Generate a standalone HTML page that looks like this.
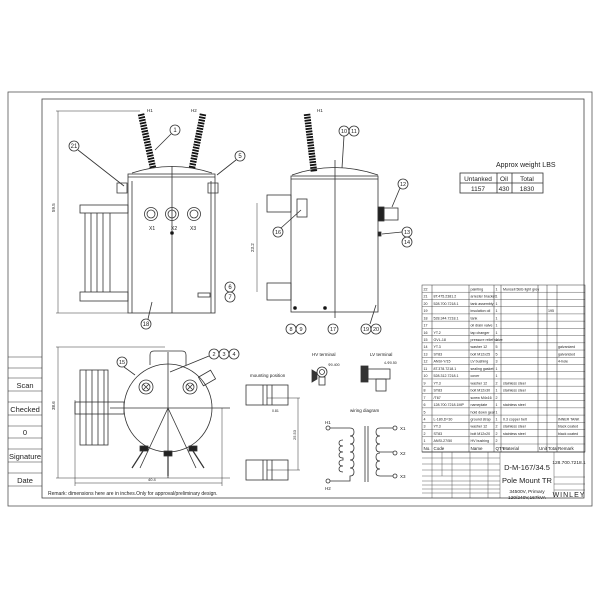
<!DOCTYPE html>
<html><head><meta charset="utf-8"><style>
html,body{margin:0;padding:0;background:#fff}
svg{display:block}
text{font-family:"Liberation Sans",sans-serif;fill:#222}
</style></head><body>
<svg width="600" height="600" viewBox="0 0 600 600" xmlns="http://www.w3.org/2000/svg" stroke="#333" stroke-width="0.8" fill="none">
<rect x="8" y="92" width="584" height="414" stroke="#555"/>
<rect x="42" y="99" width="542" height="399" stroke="#444"/>
<g stroke-width="0.6">
<line x1="8" y1="357" x2="42" y2="357"/><line x1="8" y1="368" x2="42" y2="368"/>
<line x1="8" y1="378" x2="42" y2="378"/><line x1="8" y1="391" x2="42" y2="391"/>
<line x1="8" y1="402" x2="42" y2="402"/><line x1="8" y1="415" x2="42" y2="415"/>
<line x1="8" y1="426" x2="42" y2="426"/><line x1="8" y1="438" x2="42" y2="438"/>
<line x1="8" y1="449" x2="42" y2="449"/><line x1="8" y1="462" x2="42" y2="462"/>
<line x1="8" y1="473" x2="42" y2="473"/><line x1="8" y1="486" x2="42" y2="486"/>
</g>
<g stroke="none" font-size="7.5" text-anchor="middle">
<text x="25" y="388">Scan</text><text x="25" y="412">Checked</text>
<text x="25" y="435">0</text><text x="25" y="459">Signature</text><text x="25" y="483">Date</text>
</g>

<line x1="58" y1="111" x2="58" y2="313" stroke-width="0.5"/>
<line x1="56" y1="111" x2="140" y2="111" stroke-width="0.5"/>
<line x1="56" y1="313" x2="128" y2="313" stroke-width="0.5"/>
<text x="55" y="212" font-size="4.5" stroke="none" transform="rotate(-90 55 212)">59.5</text>
<path d="M132 173 Q172 160 212 173" />
<rect x="128" y="174" width="87" height="139"/>
<line x1="128" y1="177" x2="215" y2="177"/>
<line x1="172" y1="166" x2="172" y2="313"/>
<line x1="132" y1="181" x2="132" y2="313"/><line x1="211" y1="181" x2="211" y2="313"/>
<g stroke="#111" stroke-width="6.5" stroke-dasharray="1.8 1">
<line x1="141" y1="114" x2="153" y2="168"/>
<line x1="203" y1="114" x2="192" y2="168"/>
<line x1="307" y1="114" x2="314" y2="172"/>
</g>
<g stroke="none" font-size="4.5"><text x="147" y="112">H1</text><text x="191" y="112">H2</text><text x="317" y="112">H1</text></g>
<rect x="80" y="205" width="48" height="8"/><rect x="80" y="292" width="48" height="9"/>
<g><line x1="85" y1="213" x2="85" y2="292"/><line x1="91" y1="213" x2="91" y2="292"/><line x1="97" y1="213" x2="97" y2="292"/><line x1="103" y1="213" x2="103" y2="292"/><line x1="110" y1="213" x2="110" y2="292"/></g>
<circle cx="151" cy="214" r="6.5"/><circle cx="151" cy="214" r="4"/>
<circle cx="172" cy="214" r="6.5"/><circle cx="172" cy="214" r="4"/>
<circle cx="194" cy="214" r="6.5"/><circle cx="194" cy="214" r="4"/>
<g stroke="none" font-size="5"><text x="149" y="230">X1</text><text x="171" y="230">X2</text><text x="190" y="230">X3</text></g>
<circle cx="172" cy="233" r="1.5" fill="#111"/>
<path d="M117 183 h10 v10 h-10z M208 183 h10 v10 h-10z"/>
<rect x="198" y="293" width="12" height="4"/>
<g>
<circle cx="175" cy="130" r="5"/><line x1="171" y1="134" x2="155" y2="150"/>
<circle cx="74" cy="146" r="5"/><line x1="78" y1="150" x2="124" y2="186"/>
<circle cx="240" cy="156" r="5"/><line x1="236" y1="160" x2="217" y2="175"/>
<circle cx="230" cy="287" r="5"/><circle cx="230" cy="297" r="5"/>
<circle cx="146" cy="324" r="5"/><line x1="148" y1="319" x2="152" y2="302"/>
</g>
<g stroke="none" font-size="6" text-anchor="middle">
<text x="175" y="132">1</text><text x="74" y="148">21</text><text x="240" y="158">5</text>
<text x="230" y="289">6</text><text x="230" y="299">7</text><text x="146" y="326">18</text>
</g>

<path d="M292 175 Q334 160 378 175"/>
<rect x="291" y="176" width="87" height="136"/>
<line x1="335" y1="160" x2="335" y2="318"/>
<line x1="291" y1="179" x2="378" y2="179"/>
<rect x="267" y="195" width="24" height="17"/><rect x="267" y="283" width="24" height="17"/>
<line x1="257" y1="203" x2="257" y2="292" stroke-width="0.5"/>
<text x="254" y="252" font-size="4.5" stroke="none" transform="rotate(-90 254 252)">23.2</text>
<rect x="297" y="199" width="10" height="18"/>
<rect x="378" y="207" width="6" height="14" fill="#222"/>
<rect x="384" y="208" width="14" height="12"/>
<rect x="378" y="232" width="3" height="4" fill="#222"/>
<circle cx="295" cy="308" r="1.5" fill="#111"/><circle cx="325" cy="308" r="1.5" fill="#111"/>
<g>
<circle cx="344" cy="131" r="5"/><circle cx="354" cy="131" r="5"/><line x1="344" y1="136" x2="342" y2="168"/>
<circle cx="403" cy="184" r="5"/><line x1="400" y1="188" x2="392" y2="207"/>
<circle cx="407" cy="232" r="5"/><circle cx="407" cy="242" r="5"/><line x1="382" y1="234" x2="402" y2="232"/>
<circle cx="278" cy="232" r="5"/><line x1="281" y1="228" x2="301" y2="210"/>
<circle cx="291" cy="329" r="5"/><circle cx="301" cy="329" r="5"/>
<circle cx="333" cy="329" r="5"/>
<circle cx="366" cy="329" r="5"/><circle cx="376" cy="329" r="5"/><line x1="370" y1="324" x2="376" y2="305"/>
</g>
<g stroke="none" font-size="5.5" text-anchor="middle">
<text x="344" y="133">10</text><text x="354" y="133">11</text><text x="403" y="186">12</text>
<text x="407" y="234">13</text><text x="407" y="244">14</text><text x="278" y="234">16</text>
<text x="291" y="331">8</text><text x="301" y="331">9</text><text x="333" y="331">17</text>
<text x="366" y="331">19</text><text x="376" y="331">20</text>
</g>

<text x="496" y="167" font-size="7" stroke="none">Approx weight LBS</text>
<rect x="460" y="173" width="83" height="20"/>
<line x1="460" y1="183" x2="543" y2="183"/>
<line x1="497" y1="173" x2="497" y2="193"/><line x1="512" y1="173" x2="512" y2="193"/>
<g stroke="none" font-size="6.5" text-anchor="middle">
<text x="478" y="181">Untanked</text><text x="504" y="181">Oil</text><text x="527" y="181">Total</text>
<text x="478" y="191">1157</text><text x="504" y="191">430</text><text x="527" y="191">1830</text>
</g>

<line x1="58" y1="347" x2="58" y2="478" stroke-width="0.5"/>
<line x1="56" y1="347" x2="165" y2="347" stroke-width="0.5"/>
<line x1="56" y1="478" x2="230" y2="478" stroke-width="0.5"/>
<line x1="75" y1="483" x2="222" y2="483" stroke-width="0.5"/>
<line x1="75" y1="400" x2="75" y2="486" stroke-width="0.5"/><line x1="222" y1="408" x2="222" y2="486" stroke-width="0.5"/>
<text x="148" y="481" font-size="4" stroke="none">40.4</text>
<text x="55" y="410" font-size="4.5" stroke="none" transform="rotate(-90 55 410)">38.6</text>
<rect x="80" y="370" width="28" height="75"/>
<line x1="86" y1="370" x2="86" y2="445"/><line x1="92" y1="370" x2="92" y2="445"/><line x1="98" y1="370" x2="98" y2="445"/><line x1="104" y1="370" x2="104" y2="445"/>
<rect x="75" y="402" width="49" height="12"/>
<circle cx="168" cy="408" r="44"/>
<line x1="110" y1="408" x2="230" y2="408"/>
<line x1="168" y1="352" x2="168" y2="478"/>
<line x1="168" y1="408" x2="140" y2="468"/><line x1="168" y1="408" x2="196" y2="468"/>
<path d="M150 365 v-10 q0 -4 4 -4 h28 q4 0 4 4 v10"/>
<rect x="200" y="373" width="14" height="10" transform="rotate(-30 207 378)"/>
<g><circle cx="146" cy="387" r="7"/><circle cx="146" cy="387" r="4"/><path d="M143 384 l6 6 M149 384 l-6 6"/>
<circle cx="190" cy="387" r="7"/><circle cx="190" cy="387" r="4"/><path d="M187 384 l6 6 M193 384 l-6 6"/></g>
<g fill="#222"><rect x="140" y="446" width="8" height="5"/><rect x="164" y="451" width="8" height="5"/><rect x="189" y="446" width="8" height="5"/></g>
<line x1="143" y1="451" x2="132" y2="468" stroke-width="1.2"/><line x1="168" y1="456" x2="168" y2="476" stroke-width="1.2"/><line x1="193" y1="451" x2="204" y2="468" stroke-width="1.2"/>
<circle cx="122" cy="362" r="5"/><line x1="124" y1="367" x2="135" y2="375"/>
<circle cx="214" cy="354" r="5"/><circle cx="224" cy="354" r="5"/><circle cx="234" cy="354" r="5"/><line x1="209" y1="356" x2="170" y2="372"/>
<g stroke="none" font-size="5.5" text-anchor="middle"><text x="122" y="364">15</text><text x="214" y="356">2</text><text x="224" y="356">3</text><text x="234" y="356">4</text></g>
<text x="48" y="495" font-size="5" stroke="none">Remark: dimensions here are in inches.Only for approval/preliminary design.</text>

<text x="250" y="377" font-size="4.5" stroke="none">mounting position</text>
<rect x="246" y="385" width="42" height="20"/><rect x="246" y="460" width="42" height="20"/>
<line x1="263" y1="385" x2="263" y2="405"/><line x1="267" y1="385" x2="267" y2="405"/><line x1="272" y1="385" x2="272" y2="405"/>
<line x1="263" y1="460" x2="263" y2="480"/><line x1="267" y1="460" x2="267" y2="480"/><line x1="272" y1="460" x2="272" y2="480"/>
<line x1="267" y1="398" x2="300" y2="398" stroke-width="0.5"/><line x1="267" y1="470" x2="300" y2="470" stroke-width="0.5"/>
<line x1="298" y1="398" x2="298" y2="470" stroke-width="0.5"/>
<text x="296" y="440" font-size="4" stroke="none" transform="rotate(-90 296 440)">25.53</text>
<text x="272" y="412" font-size="3.5" stroke="none">0.81</text>

<text x="312" y="356" font-size="4.5" stroke="none">HV terminal</text>
<text x="370" y="356" font-size="4.5" stroke="none">LV terminal</text>
<circle cx="322" cy="372" r="5"/><circle cx="322" cy="372" r="2.5"/>
<rect x="319" y="377" width="6" height="8"/><path d="M312 370 l5 3 v6 l-5 3z" fill="#333"/>
<text x="328" y="366" font-size="3.5" stroke="none">Φ0.400</text>
<rect x="361" y="366" width="7" height="16" fill="#333"/>
<rect x="368" y="369" width="22" height="10"/><rect x="376" y="379" width="10" height="12"/>
<text x="384" y="364" font-size="3.5" stroke="none">4-Φ0.50</text>

<text x="350" y="412" font-size="4.5" stroke="none">wiring diagram</text>
<circle cx="328" cy="428" r="2"/><circle cx="328" cy="481" r="2"/>
<path d="M330 428 h20 v0 q4 0 4 4 q0 4 -4 4 q4 0 4 4 q0 4 -4 4 q4 0 4 4 q0 4 -4 4 q4 0 4 4 q0 4 -4 4 q4 0 4 4 q0 4 -4 4 q4 0 4 4 q0 4 -4 4 v5 h-20"/>
<path d="M343 440 q-4 0 -4 3 q0 3 4 3 q-4 0 -4 3 q0 3 4 3 q-4 0 -4 3 q0 3 4 3 v2 q-4 0 -4 3 q0 3 4 3 q-4 0 -4 3 q0 3 4 3"/>
<line x1="365" y1="426" x2="365" y2="482"/><line x1="368" y1="426" x2="368" y2="482"/>
<circle cx="395" cy="428" r="2"/><circle cx="395" cy="453" r="2"/><circle cx="395" cy="476" r="2"/>
<path d="M393 428 h-13 q-4 0 -4 4 q0 4 4 4 q-4 0 -4 4 q0 4 4 4 q-4 0 -4 4 q0 4 4 4 h13 M380 453 q-4 0 -4 4 q0 4 4 4 q-4 0 -4 4 q0 4 4 4 q-4 0 -4 4 q0 3 4 3 h13"/>
<g stroke="none" font-size="4.5"><text x="400" y="430">X1</text><text x="400" y="455">X2</text><text x="400" y="478">X3</text><text x="325" y="424">H1</text><text x="325" y="490">H2</text></g>

<g stroke-width="0.5">
<rect x="422" y="285" width="163" height="167"/>
<line x1="432" y1="285" x2="432" y2="452"/><line x1="469" y1="285" x2="469" y2="452"/>
<line x1="494" y1="285" x2="494" y2="452"/><line x1="501" y1="285" x2="501" y2="452"/>
<line x1="538" y1="285" x2="538" y2="452"/><line x1="547" y1="285" x2="547" y2="452"/>
<line x1="557" y1="285" x2="557" y2="452"/>
</g>
<g stroke-width="0.4" id="rows"></g>
<g stroke="none" font-size="4" id="tt"></g>
<line x1="422" y1="452" x2="585" y2="452"/>
<g stroke-width="0.4">
<line x1="500" y1="452" x2="500" y2="498"/><line x1="554" y1="452" x2="554" y2="498"/>
<line x1="554" y1="477" x2="585" y2="477"/><line x1="554" y1="484" x2="585" y2="484"/><line x1="554" y1="490" x2="585" y2="490"/>
<line x1="422" y1="458" x2="500" y2="458"/><line x1="422" y1="464" x2="500" y2="464"/><line x1="422" y1="470" x2="500" y2="470"/>
<line x1="422" y1="476" x2="500" y2="476"/><line x1="422" y1="481" x2="500" y2="481"/><line x1="422" y1="485" x2="500" y2="485"/>
<line x1="422" y1="489" x2="500" y2="489"/><line x1="422" y1="493" x2="500" y2="493"/>
<line x1="432" y1="452" x2="432" y2="498"/><line x1="442" y1="452" x2="442" y2="476"/><line x1="452" y1="452" x2="452" y2="498"/><line x1="470" y1="452" x2="470" y2="498"/><line x1="488" y1="452" x2="488" y2="498"/>
</g>
<g stroke="none" text-anchor="middle">
<text x="527" y="470" font-size="7.5">D-M-167/34.5</text>
<text x="527" y="483" font-size="7.5">Pole Mount TR</text>
<text x="527" y="493" font-size="4.8">34500V, Primary</text>
<text x="527" y="499" font-size="4.8">120/240V,167kVA</text>
<text x="569" y="464" font-size="4.8">128.700.7218.1</text>
<text x="569" y="497" font-size="7" letter-spacing="1">WINLEY</text>
</g>
<script>
var names=[["22","","painting","1","Munsell 5BG light grey","","",""],["21","8T.475.2381.2","arrester bracket","1","","","",""],["20","528.700.7218.1","tank assembly","1","","","",""],["19","","insulation oil","1","","","195",""],["18","528.344.7218.1","tank","1","","","",""],["17","","oil drain valve","1","","","",""],["16","YT.2","tap changer","1","","","",""],["15","GVL-18","pressure relief valve","1","","","",""],["14","YT.3","washer 12","5","","","","galvanized"],["13","ST83","bolt M12x25","5","","","","galvanized"],["12","ANSI-Y/15","LV bushing","3","","","","4-hole"],["11","8T.378.7218.1","sealing gasket","1","","","",""],["10","528.312.7218.1","cover","1","","","",""],["9","YT.3","washer 12","2","stainless steel","","",""],["8","ST83","bolt M12x30","1","stainless steel","","",""],["7","/T67","screw M4x16","2","","","",""],["6","128.700.7218.1MP","nameplate","1","stainless steel","","",""],["5","","hold down gear","1","","","",""],["4","L-180,D=30","ground strap","1","0.3 copper belt","","","INNER TANK"],["3","YT.3","washer 12","2","stainless steel","","","black coated"],["2","ST83","bolt M12x20","2","stainless steel","","","black coated"],["1","ANSI-27/50","HV bushing","2","","","",""],["No.","Code","Name","QTY","Material","Unit","Total","Remark"]];
var xs=[423.5,433.5,470.5,495.5,503,539,548,558];
var r=document.getElementById('rows'),t=document.getElementById('tt'),ns="http://www.w3.org/2000/svg";
var h=(444-285)/22;
for(var i=0;i<23;i++){var y=285+i*h;
 if(i>0){var l=document.createElementNS(ns,'line');l.setAttribute('x1',422);l.setAttribute('x2',585);l.setAttribute('y1',y);l.setAttribute('y2',y);r.appendChild(l);}
 for(var j=0;j<8;j++){if(!names[i][j])continue;var tx=document.createElementNS(ns,'text');tx.setAttribute('x',xs[j]);tx.setAttribute('y',y+(i==22?6:5.4));tx.setAttribute('font-size',i==22?4.5:3.6);tx.textContent=names[i][j];t.appendChild(tx);}
}
</script>
</svg>
</body></html>
